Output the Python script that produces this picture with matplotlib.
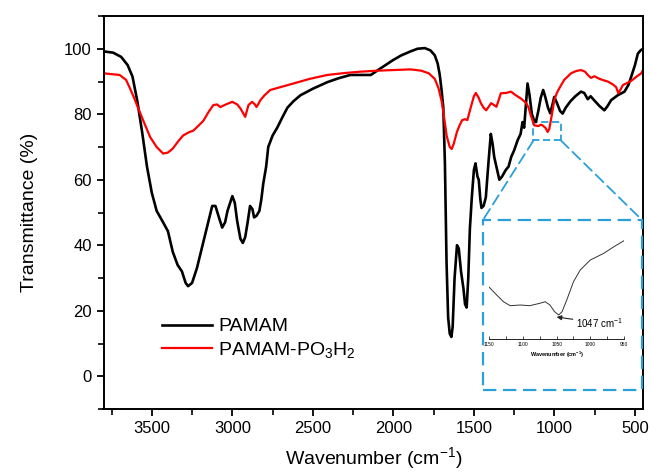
import matplotlib
matplotlib.use("Agg")
import matplotlib.pyplot as plt
from matplotlib.patches import Rectangle, ConnectionPatch
from matplotlib.ticker import MultipleLocator

plt.rcParams['font.family'] = ['Liberation Sans', 'DejaVu Sans']
plt.rcParams['mathtext.default'] = 'regular'

# ---------------- data ----------------
pamam_x = [3800, 3740, 3690, 3650, 3620, 3590, 3560, 3530, 3500, 3470, 3430, 3400, 3370, 3340,
           3313, 3290, 3275, 3250, 3220, 3180, 3150, 3125, 3105, 3080, 3063, 3045, 3030, 3000,
           2985, 2970, 2950, 2935, 2920, 2905, 2890, 2875, 2865, 2850, 2832, 2820, 2808, 2790,
           2777, 2750, 2720, 2690, 2658, 2620, 2577, 2500, 2410, 2340, 2267, 2200, 2140, 2080,
           2000, 1950, 1893, 1850, 1805, 1770, 1743, 1725, 1712, 1700, 1690, 1680, 1670, 1660,
           1650, 1640, 1632, 1620, 1605, 1594, 1580, 1565, 1555, 1545, 1535, 1525, 1513, 1500,
           1490, 1478, 1470, 1460, 1453, 1440, 1426, 1410, 1395, 1384, 1374, 1360, 1342, 1325,
           1302, 1285, 1268, 1250, 1229, 1210, 1198, 1188, 1177, 1167, 1155, 1140, 1125, 1115,
           1100, 1085, 1070, 1058, 1040, 1026, 1012, 1001, 985, 965, 949, 930, 900, 870, 835,
           815, 793, 775, 754, 720, 690, 670, 648, 607, 565, 540, 523, 500, 482, 465, 450]
pamam_y = [99.2, 98.8, 97.5, 95, 91.5, 84, 74.5, 64, 56, 50.5, 47, 44.3, 38, 34,
           32, 28.5, 27.5, 28.5, 33, 41, 47, 52, 52, 48, 45.4, 47, 50.5, 55,
           53, 47.4, 42, 40.7, 42.5, 47, 52, 51, 48.5, 49, 50.5, 54, 58.8, 64,
           70, 73.5, 76, 79, 82, 84, 85.8, 87.8, 89.8, 91, 92, 92, 92, 94,
           96.6, 98, 99.2, 100, 100.2, 99.5, 98, 95.5, 92, 87, 82, 65, 35, 18,
           13, 12, 15, 30, 40, 39, 32, 26.8, 22, 21, 30, 45, 54.6, 63,
           65, 61, 60, 54, 51.4, 52, 54.6, 65, 74, 71, 67, 64, 60, 61,
           63, 64, 67, 69, 72, 74, 77.6, 75.9, 83, 89.4, 86, 80, 78, 77.6,
           81, 85, 87.4, 85.5, 82, 80.3, 83, 85.3, 83.5, 81, 80.2, 82, 84, 85.5, 86.9,
           86.5, 84.6, 85.5, 84.3, 82.5, 81.2, 82.5, 84.3, 85.8, 86.9, 89, 91.5, 95, 98.5, 99.5, 100]

po3h2_x = [3800, 3700, 3660, 3640, 3610, 3575, 3540, 3510, 3470, 3430, 3400, 3370, 3340, 3306,
           3270, 3242, 3210, 3180, 3150, 3118, 3095, 3075, 3040, 3000, 2970, 2950, 2935, 2920,
           2910, 2900, 2877, 2860, 2850, 2840, 2826, 2800, 2765, 2700, 2620, 2520, 2410, 2300,
           2205, 2100, 2000, 1893, 1827, 1780, 1743, 1720, 1700, 1685, 1669, 1650, 1638, 1625,
           1606, 1590, 1573, 1555, 1541, 1520, 1500, 1488, 1470, 1457, 1440, 1424, 1405, 1393,
           1375, 1360, 1345, 1333, 1300, 1270, 1240, 1208, 1177, 1160, 1147, 1125, 1100, 1085,
           1073, 1055, 1042, 1032, 1022, 1010, 1001, 985, 970, 939, 897, 865, 835, 810, 793,
           773, 752, 720, 690, 669, 640, 617, 603, 590, 575, 550, 523, 490, 461, 450]
po3h2_y = [92.5, 92, 90.5, 88.4, 85, 80.7, 76.5, 73, 70, 68, 68.3, 69.5, 71.5, 73.5,
           74.5, 75, 76.5, 78, 80.5, 82.8, 83, 82.2, 83, 83.8, 83, 81.8, 80.5, 79.2,
           81, 82.8, 83.8, 83, 82.2, 83, 84.3, 85.8, 87.4, 88.3, 89.4, 90.8, 92, 92.6,
           93, 93.3, 93.5, 93.7, 93.3, 92.5, 90.8, 88, 83.9, 79, 73.4, 70, 69.4, 71,
           74.5, 76.5, 78.2, 78.5, 78.2, 82, 85.5, 86.5, 85, 83.4, 82, 81.2, 82.5, 83.4,
           82.8, 82.3, 84.5, 86.4, 86.5, 86.9, 85.8, 84.8, 83.5, 82, 79.7, 76.6, 76.4, 76.8,
           76.6, 75.8, 74.6, 75.5, 78.2, 81.5, 84.3, 86.5, 87.9, 90.5, 92.5, 93.2, 93.5, 93, 92,
           91.1, 91.6, 90.8, 90.3, 90, 89.2, 88.3, 86.4, 87.5, 88.9, 89.5, 90.2, 91.5, 92.5, 93.5]

inset_x = [1150, 1139, 1129, 1119, 1104, 1090, 1075, 1067, 1060, 1053, 1047, 1042, 1035,
           1025, 1015, 1000, 980, 965, 950]
inset_y = [51.7, 44, 37.3, 33.3, 34, 33.3, 35.7, 37.3, 34, 27.3, 24, 27.3, 39,
           57.3, 69, 79, 85.7, 92.3, 98.3]

labels = ['PAMAM', 'PAMAM-PO$_3$H$_2$']
xticks = [3500, 3000, 2500, 2000, 1500, 1000, 500]
yticks = [0, 20, 40, 60, 80, 100]
inset_ticks = [1150, 1100, 1050, 1000, 950]
zoom_box = (960, 1130, 72, 77.5)   # x1, x2, y1, y2 of highlighted region
peak_label = '1047 cm$^{-1}$'
peak_pos = 1047

BLUE = '#2A9FD8'

# ---------------- figure ----------------
fig = plt.figure(figsize=(6.51, 4.76), dpi=100)
ax = fig.add_axes([103.5 / 651, 1 - 409 / 476, 539.5 / 651, 393 / 476])

l1, = ax.plot(pamam_x, pamam_y, color='black', lw=1.9)
l2, = ax.plot(po3h2_x, po3h2_y, color='red', lw=1.6)

ax.set_xlim(3800, 450)
ax.set_ylim(-10, 110)
ax.set_xticks(xticks)
ax.set_yticks(yticks)
ax.xaxis.set_minor_locator(MultipleLocator(250))
ax.yaxis.set_minor_locator(MultipleLocator(10))
ax.tick_params(which='major', direction='out', length=5, width=1.3, labelsize=12,
               top=False, right=False)
ax.tick_params(which='minor', direction='out', length=4, width=1.2, top=False, right=False)
for s in ax.spines.values():
    s.set_linewidth(1.4)

ax.set_xlabel('Wavenumber (cm$^{-1}$)', fontsize=14, labelpad=7)
ax.set_ylabel('Transmittance (%)', fontsize=14, labelpad=19)

ax.legend([l1, l2], labels, loc='upper left', bbox_to_anchor=(0.108, 0.232),
          frameon=False, fontsize=14, handlelength=2.6, handletextpad=0.3,
          borderpad=0, borderaxespad=0, labelspacing=0.25)

# highlighted region in main plot
x1, x2, y1, y2 = zoom_box
ax.add_patch(Rectangle((x1, y1), x2 - x1, y2 - y1, fill=False, edgecolor=BLUE,
                       lw=1.3, linestyle=(0, (4, 2))))

# inset frame in figure coordinates
box_l, box_b, box_w, box_h = 483 / 651, 1 - 390 / 476, 159 / 651, 170 / 476
fig.patches.append(Rectangle((box_l, box_b), box_w, box_h, transform=fig.transFigure,
                             fill=False, edgecolor=BLUE, lw=1.6, linestyle=(0, (6, 3))))
for xa, xb in ((x2, box_l), (x1, box_l + box_w)):
    cp = ConnectionPatch(xyA=(xa, y1), coordsA=ax.transData,
                         xyB=(xb, box_b + box_h), coordsB=fig.transFigure,
                         color=BLUE, lw=1.3, linestyle=(0, (6, 3)))
    fig.add_artist(cp)

# inset axes
ins = fig.add_axes([489.3 / 651, 1 - 339 / 476, 134.7 / 651, 109 / 476])
ins.patch.set_alpha(0)
ins.plot(inset_x, inset_y, color='#333333', lw=0.7)
ins.set_xlim(1150, 950)
ins.set_ylim(0, 109)
for k in ('top', 'right', 'left'):
    ins.spines[k].set_visible(False)
ins.spines['bottom'].set_linewidth(0.6)
ins.set_yticks([])
ins.set_xticks(inset_ticks)
ins.xaxis.set_minor_locator(MultipleLocator(25))
ins.tick_params(axis='x', which='both', direction='in', length=2, width=0.5,
                labelsize=3.5, pad=2)
ins.set_xlabel('Wavenumber (cm$^{-1}$)', fontsize=4, labelpad=2, fontweight='bold')
ins.annotate(peak_label, xy=(peak_pos + 3, 22), xytext=(1022, 16),
             fontsize=7, va='center', ha='left',
             arrowprops=dict(arrowstyle='-|>', color='#222222', lw=0.8,
                             mutation_scale=7, shrinkA=0, shrinkB=0))

fig.savefig('out.png', dpi=100)
